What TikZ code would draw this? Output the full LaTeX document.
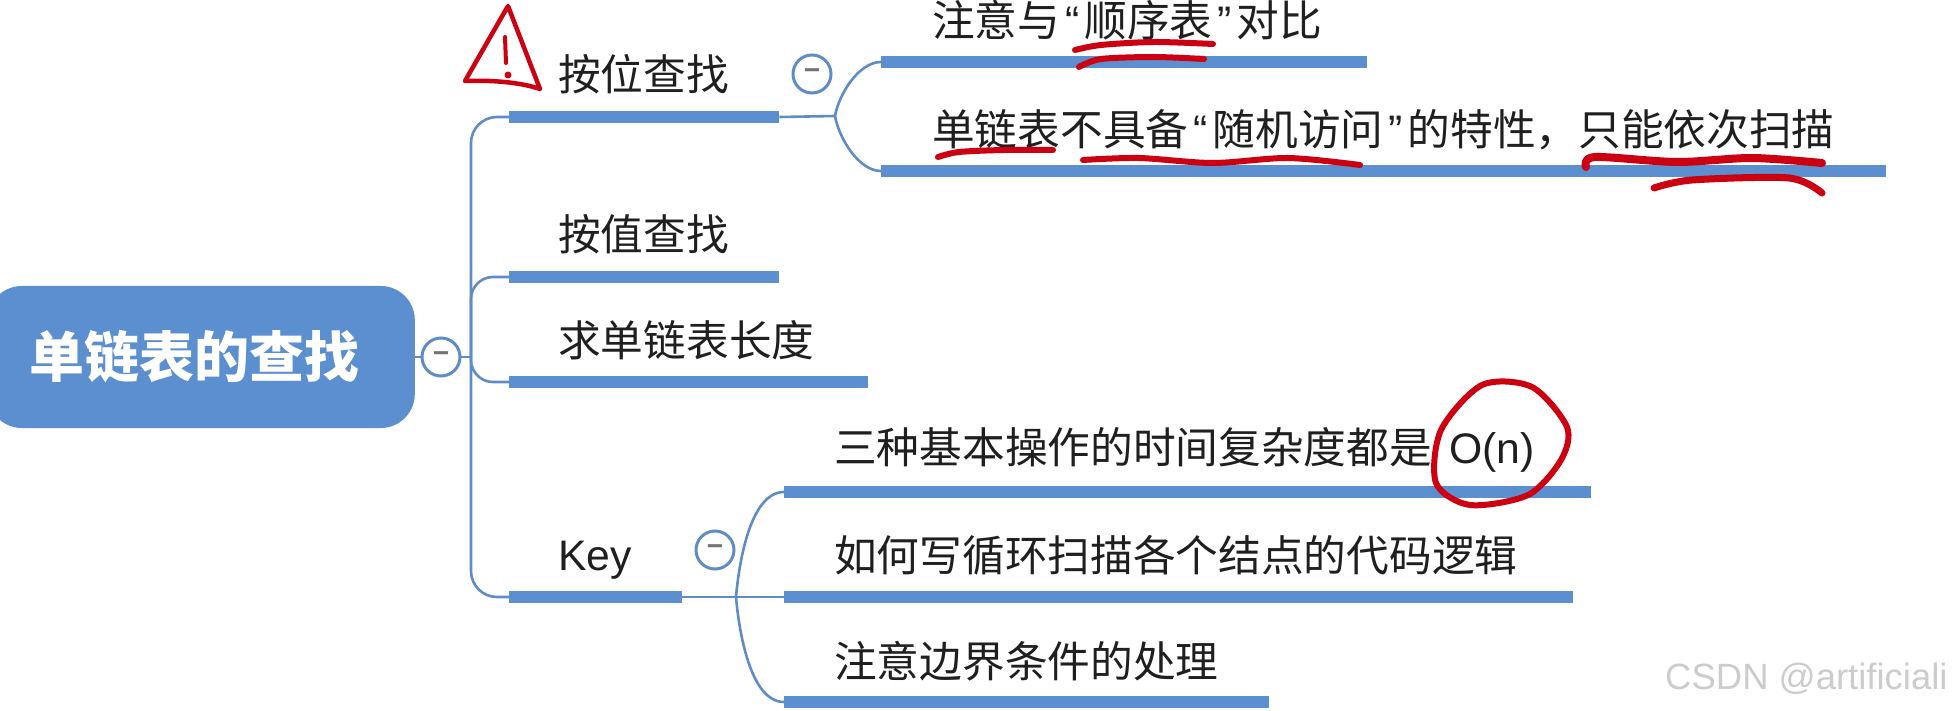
\documentclass[tikz,border=0pt]{standalone}
\usepackage{fontspec}
\setmainfont{Liberation Sans}
\newfontfamily\cjk{Noto Sans CJK SC}
\definecolor{mapblue}{HTML}{5B8FD0}
\definecolor{linkblue}{HTML}{5F8CC4}
\definecolor{penred}{HTML}{CC0010}
\newcommand{\openq}{\hspace{5pt}{\rmfamily “}\hspace{5pt}}
\newcommand{\closeq}{\hspace{5pt}{\rmfamily ”}\hspace{5pt}}
\begin{document}
\begin{tikzpicture}[
    x=1pt, y=-1pt,
    every node/.style={font=\fontsize{42.7}{42.7}\selectfont\cjk, text=black!88, inner sep=0pt},
    label/.style={anchor=west},
    branchbar/.style={anchor=west, fill=mapblue, minimum height=12pt},
    toggle/.style={circle, draw=linkblue, line width=3pt, fill=white, minimum size=38pt, text=black!55, font=\fontsize{28}{28}\selectfont\bfseries},
    link/.style={draw=linkblue, line width=2.6pt},
    pen/.style={draw=penred, line width=6pt, line cap=round, line join=round}
]
\useasboundingbox (0,0) rectangle (1952,711);

% Root
\node[anchor=east, fill=mapblue, rounded corners=34pt, minimum width=427pt, minimum height=142pt, text=white, font=\fontsize{55}{55}\selectfont\cjk\bfseries] (root) at (415,357) {\raisebox{-6pt}{单链表的查找}\rule{14pt}{0pt}};
\coordinate (rootjoin) at (471,357);

% First level
\node[branchbar, minimum width=270pt] (posbar) at (509,117) {};
\node[branchbar, minimum width=270pt] (valbar) at (509,277) {};
\node[branchbar, minimum width=359pt] (lenbar) at (509,382) {};
\node[branchbar, minimum width=173pt] (keybar) at (509,597) {};
\node[label] (postext) at (558,74) {按位查找};
\node[label] (valtext) at (558,234) {按值查找};
\node[label] (lentext) at (558,340) {求单链表长度};
\node[label, font=\fontsize{42.7}{42.7}\selectfont\rmfamily] (keytext) at (558,560) {Key};

% Position branch
\coordinate (posjoin) at (835,116);
\node[branchbar, minimum width=486pt] (cmpbar) at (881,62) {};
\node[branchbar, minimum width=1005pt] (randbar) at (881,171) {};
\node[label] (cmptext) at (932,20) {注意与\openq 顺序表\closeq 对比};
\node[label] (randtext) at (932,130) {单链表不具备\openq 随机访问\closeq 的特性，只能依次扫描};

% Key branch
\coordinate (keyjoin) at (736,597);
\node[branchbar, minimum width=807pt] (timebar) at (784,492) {};
\node[branchbar, minimum width=789pt] (loopbar) at (784,597) {};
\node[branchbar, minimum width=485pt] (edgebar) at (784,702) {};
\node[label] (timetext) at (834,450) {三种基本操作的时间复杂度都是\hspace{17pt}{\rmfamily O(n)}};
\node[label] (looptext) at (834,555) {如何写循环扫描各个结点的代码逻辑};
\node[label] (edgetext) at (834,661) {注意边界条件的处理};

% Links
\draw[link] (root.east) -- (rootjoin);
\draw[link, rounded corners=26pt] (rootjoin) |- (posbar.west);
\draw[link, rounded corners=22pt] (rootjoin) |- (valbar.west);
\draw[link, rounded corners=22pt] (rootjoin) |- (lenbar.west);
\draw[link, rounded corners=26pt] (rootjoin) |- (keybar.west);
\draw[link] (posbar.east) -- (posjoin);
\draw[link] (posjoin) to[out=80, in=180, looseness=0.8] (cmpbar.west);
\draw[link] (posjoin) to[out=-80, in=180, looseness=0.8] (randbar.west);
\draw[link] (keybar.east) -- (loopbar.west);
\draw[link] (keyjoin) to[out=85, in=180, looseness=0.75] (timebar.west);
\draw[link] (keyjoin) to[out=-85, in=180, looseness=0.75] (edgebar.west);

% Toggles
\node[toggle] (roottog) at (441,357) {−};
\node[toggle] (postog) at (812,74) {−};
\node[toggle] (keytog) at (715,550) {−};

% Red marks
\draw[pen, line width=4.5pt] (508,6) -- (465,81) .. controls (490,80) and (520,82) .. (540,89) -- cycle;
\draw[pen, line width=4pt] (505,37) -- (506,63);
\fill[penred] (508,75) circle (3.5pt);
\draw[pen] plot[smooth] coordinates {(1075,50) (1101,45) (1154,42) (1213,44)};
\draw[pen] plot[smooth] coordinates {(1079,67) (1101,59) (1154,57) (1204,59)};
\draw[pen] plot[smooth] coordinates {(938,157) (959,152) (1004,150) (1053,150)};
\draw[pen] plot[smooth] coordinates {(1083,160) (1139,158) (1213,163) (1288,158) (1360,165)};
\draw[pen, line width=8pt] plot[smooth] coordinates {(1586,167) (1595,157) (1677,162) (1752,158) (1822,163)};
\draw[pen, line width=7pt] plot[smooth] coordinates {(1654,188) (1692,180) (1789,178) (1822,193)};
\draw[pen] plot[smooth cycle] coordinates {(1482,385) (1532,387) (1567,427) (1561,460) (1528,495) (1470,505) (1436,483) (1441,430)};

% Watermark
\node[anchor=west, text=black!20, font=\fontsize{36.5}{36.5}\selectfont\rmfamily] (mark) at (1665,679) {CSDN @artificiali};
\end{tikzpicture}
\end{document}
